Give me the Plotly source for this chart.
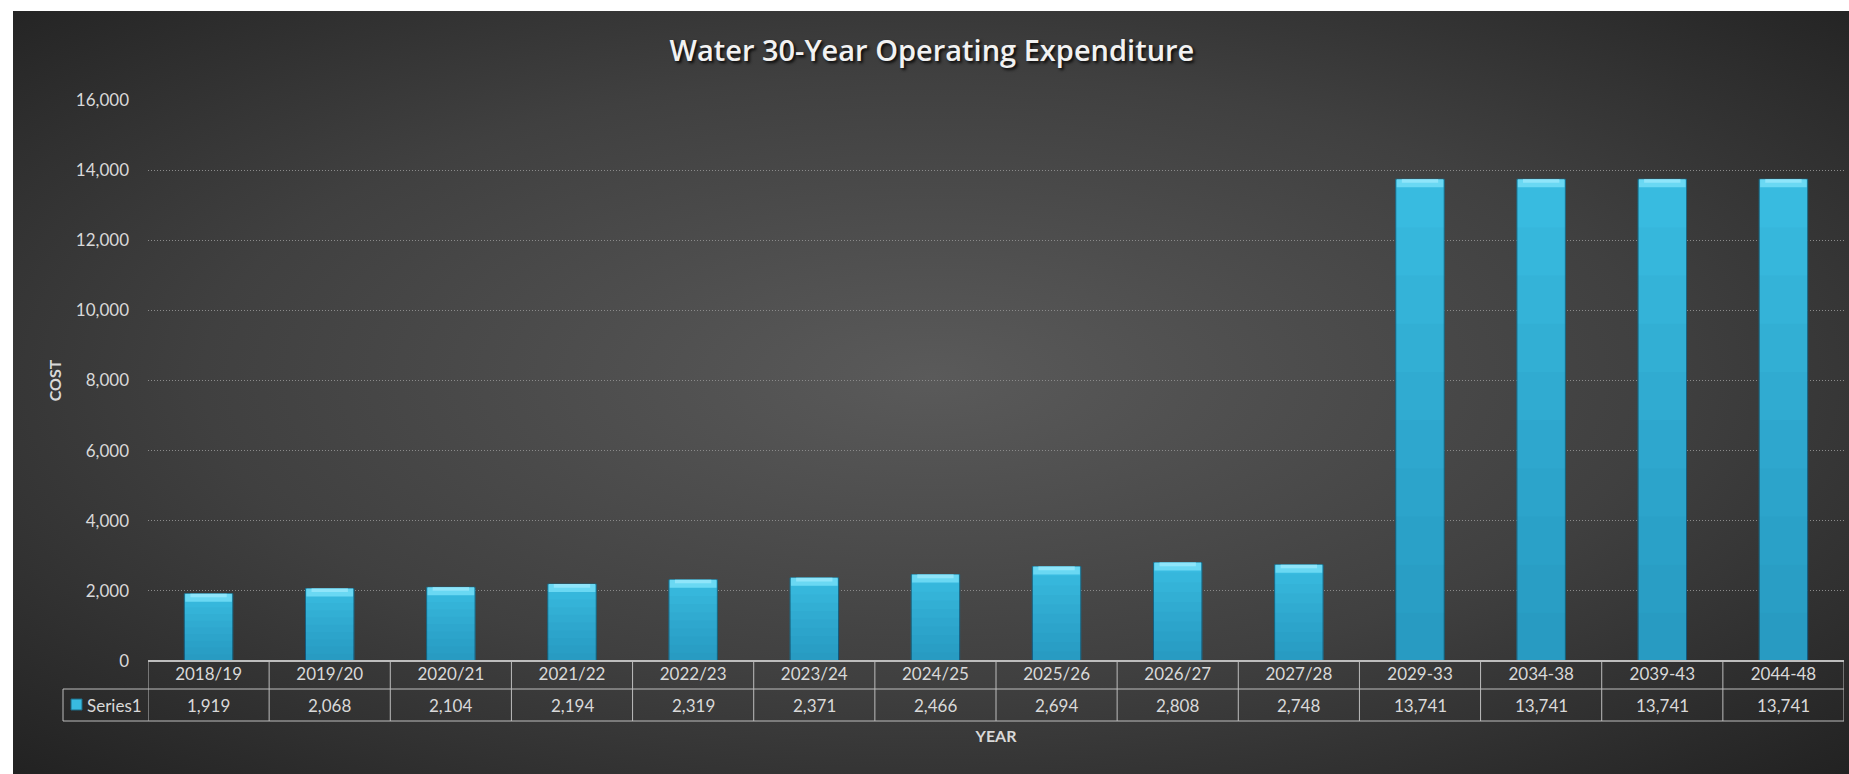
import base64
import plotly.graph_objects as go

# Operating expenditure by financial year / five-year block
years = ["2018/19", "2019/20", "2020/21", "2021/22", "2022/23", "2023/24", "2024/25",
         "2025/26", "2026/27", "2027/28", "2029-33", "2034-38", "2039-43", "2044-48"]
costs = [1919, 2068, 2104, 2194, 2319, 2371, 2466, 2694, 2808, 2748,
         13741, 13741, 13741, 13741]
series_name = "Series1"
y_ticks = [0, 2000, 4000, 6000, 8000, 10000, 12000, 14000, 16000]

W, H = 1849, 774
ML, MR, MT, MB = 148, 5, 100, 113
PW, PH = W - ML - MR, H - MT - MB
Y_MAX = 16000

TXT = "#d9d9d9"
LINE = "#bdbdbd"
FONT = "Lato"
BAR = "#38bbe0"
BAR_EDGE = "#1b6a86"
BEVEL = "#6ad8f3"


def px_to_paper_x(px):
    return (px - ML) / PW


def px_to_paper_y(py):
    return (H - MB - py) / PH


fig = go.Figure()

# main bar bodies
fig.add_trace(go.Bar(
    x=years, y=costs, name=series_name, width=0.4,
    marker=dict(color=BAR, line=dict(color=BAR_EDGE, width=1)),
))

# soft darkening toward the base of each bar
for i in range(1, 10):
    fig.add_trace(go.Bar(
        x=years, y=[v * i / 10 for v in costs], width=0.4, showlegend=False,
        marker=dict(color="rgba(8,40,70,0.022)", line=dict(width=0)),
        hoverinfo="skip",
    ))

# lighter bevel face on the top of each bar
bevel_h = 8 * Y_MAX / PH
fig.add_trace(go.Bar(
    x=years, y=[bevel_h] * len(costs), base=[v - bevel_h for v in costs],
    width=0.385, showlegend=False,
    marker=dict(color=BEVEL, line=dict(width=0)), hoverinfo="skip",
))
fig.add_trace(go.Bar(
    x=years, y=[bevel_h * 0.45] * len(costs), base=[v - bevel_h * 0.45 for v in costs],
    width=0.3, showlegend=False,
    marker=dict(color="#8fe5fa", line=dict(width=0)), hoverinfo="skip",
))

# radial background of the chart area
svg = (
    '<svg xmlns="http://www.w3.org/2000/svg" width="400" height="200" '
    'preserveAspectRatio="none" viewBox="0 0 400 200">'
    '<defs><radialGradient id="g" cx="0.5" cy="0.48" r="0.72">'
    '<stop offset="0" stop-color="#5a5a5a"/>'
    '<stop offset="0.55" stop-color="#404040"/>'
    '<stop offset="1" stop-color="#222222"/>'
    '</radialGradient></defs>'
    '<rect width="400" height="200" fill="url(#g)"/></svg>'
)
bg_src = "data:image/svg+xml;base64," + base64.b64encode(svg.encode()).decode()
x_left, y_top = 13, 11
fig.add_layout_image(dict(
    source=bg_src, xref="paper", yref="paper",
    x=px_to_paper_x(x_left), y=px_to_paper_y(y_top),
    sizex=(W - x_left) / PW, sizey=(H - y_top) / PH,
    xanchor="left", yanchor="top", sizing="stretch", layer="below",
))

# data table under the axis
n = len(years)
row1_bot = px_to_paper_y(689)
row2_bot = px_to_paper_y(721)
legend_left = px_to_paper_x(63)
shapes = []
shapes.append(dict(type="line", xref="x", yref="paper", x0=-0.5, x1=n - 0.5,
                   y0=0, y1=0, line=dict(color=LINE, width=2)))
for yb in (row1_bot, row2_bot):
    shapes.append(dict(type="line", xref="paper", yref="paper", x0=legend_left,
                       x1=1, y0=yb, y1=yb, line=dict(color=LINE, width=1)))
for k in range(n + 1):
    shapes.append(dict(type="line", xref="x", yref="paper", x0=k - 0.5, x1=k - 0.5,
                       y0=0, y1=row2_bot, line=dict(color=LINE, width=1)))
shapes.append(dict(type="line", xref="paper", yref="paper", x0=legend_left,
                   x1=legend_left, y0=row1_bot, y1=row2_bot,
                   line=dict(color=LINE, width=1)))
# legend key swatch
shapes.append(dict(type="rect", xref="paper", yref="paper",
                   x0=px_to_paper_x(71), x1=px_to_paper_x(82),
                   y0=px_to_paper_y(710), y1=px_to_paper_y(699),
                   fillcolor=BAR, line=dict(color=BAR_EDGE, width=1)))

annotations = []
val_y = (row1_bot + row2_bot) / 2
for cat, v in zip(years, costs):
    annotations.append(dict(x=cat, y=val_y, xref="x", yref="paper", text=f"{v:,}",
                            showarrow=False, font=dict(family=FONT, size=17, color=TXT),
                            xanchor="center", yanchor="middle"))
annotations.append(dict(x=px_to_paper_x(85), y=val_y, xref="paper", yref="paper",
                        text=series_name, showarrow=False,
                        font=dict(family=FONT, size=17, color=TXT),
                        xanchor="left", yanchor="middle"))

fig.update_layout(
    width=W, height=H,
    margin=dict(l=ML, r=MR, t=MT, b=MB),
    paper_bgcolor="white", plot_bgcolor="rgba(0,0,0,0)",
    barmode="overlay", bargap=0.6, showlegend=False,
    title=dict(text="Water 30-Year Operating Expenditure", x=0.504, xref="container",
               y=1 - 51 / H, yref="container", xanchor="center", yanchor="middle",
               font=dict(family="Open Sans", size=29, color="#f2f2f2", weight=600,
                         shadow="2px 2px 3px rgba(0,0,0,0.85)")),
    shapes=shapes, annotations=annotations,
    xaxis=dict(
        type="category", range=[-0.5, n - 0.5], showgrid=False, zeroline=False,
        showline=False, ticks="", tickfont=dict(family=FONT, size=17, color=TXT),
        ticklabelstandoff=1,
        title=dict(text="YEAR", font=dict(family=FONT, size=16, color=TXT, weight="bold"),
                   standoff=47),
    ),
    yaxis=dict(
        range=[0, Y_MAX], tickvals=y_ticks, tickformat=",", showgrid=True,
        gridcolor="#8a8a8a", griddash="1px,2px", gridwidth=1, zeroline=False,
        showline=False, ticks="", ticklabelstandoff=18,
        tickfont=dict(family=FONT, size=17, color=TXT),
        title=dict(text="COST", font=dict(family=FONT, size=16, color=TXT, weight="bold"),
                   standoff=10),
    ),
)

fig.write_html("out.html")
